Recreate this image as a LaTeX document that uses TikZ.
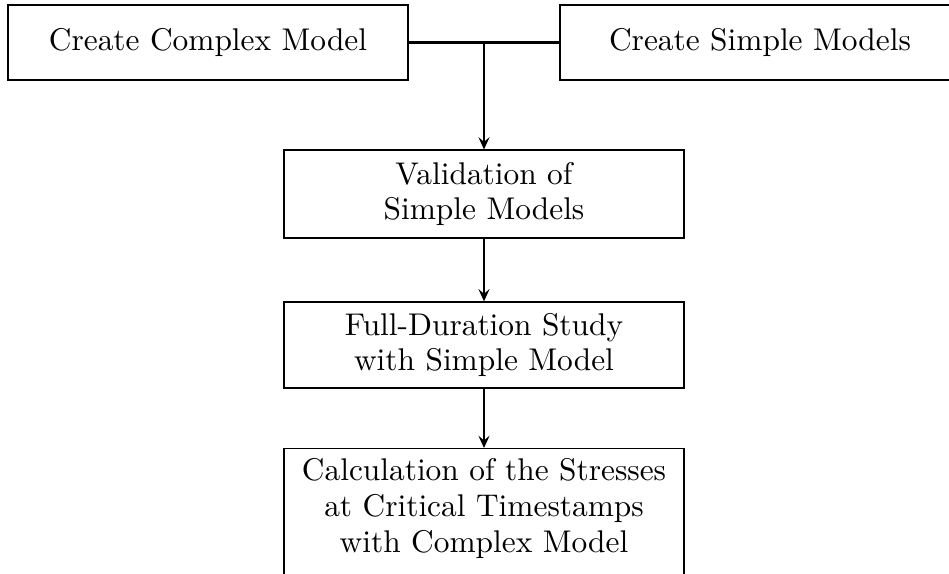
\documentclass[tikz,border=0pt]{standalone}
\usetikzlibrary{arrows.meta}
\begin{document}
\begin{tikzpicture}[x=0.3425pt,y=-0.3425pt,
  box/.style={draw,line width=0.4pt,align=center,minimum width=137pt,inner sep=0.3333em,
    font=\fontsize{10.75}{12.3}\selectfont},
  conn/.style={line width=0.8pt},
  arr/.style={conn,-{Stealth[length=4.2pt,width=3.8pt,inset=1.6pt]}}]
\useasboundingbox (0,0) rectangle (949,574);
\clip (0,0) rectangle (949,574);
\node[box,minimum height=25.7pt] (cc) at (208,42.5) {Create Complex Model};
\node[box,minimum height=25.7pt] (cs) at (760,42.5) {Create Simple Models};
\node[box,minimum height=30.1pt] (val) at (484,194) {Validation of\\Simple Models};
\node[box,minimum height=29.5pt] (full) at (484,345) {Full-Duration Study\\with Simple Model};
\node[box,anchor=north,text depth=12pt] (calc) at (484,448) {Calculation of the Stresses\\at Critical Timestamps\\with Complex Model};
\coordinate (j) at (484,42.5);
\draw[conn] (cc.east) -- (cs.west);
\draw[arr] (j) -- (val.north);
\draw[arr] (val.south) -- (full.north);
\draw[arr] (full.south) -- (calc.north);
\end{tikzpicture}
\end{document}
